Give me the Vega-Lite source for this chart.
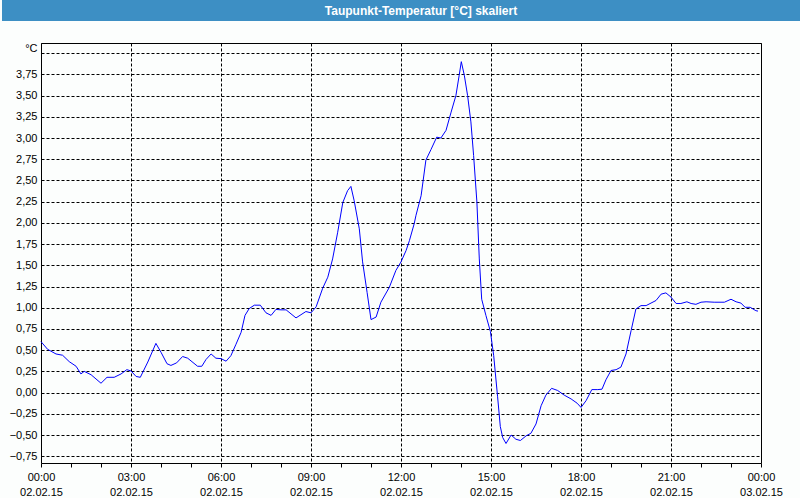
{
  "$schema": "https://vega.github.io/schema/vega-lite/v6.json",
  "background": "#fcfefd",
  "padding": 0,
  "spacing": 20,
  "config": {"view": {"stroke": null}, "font": "Liberation Sans"},
  "vconcat": [
    {
      "width": 720,
      "height": 21,
      "view": {"fill": "#3d8fc4", "stroke": null},
      "data": {"values": [{"titel": "Taupunkt-Temperatur [°C] skaliert"}]},
      "layer": [
        {
          "mark": {"type": "text", "color": "#ffffff", "fontWeight": "bold", "fontSize": 12, "font": "Liberation Sans", "dx": 20, "baseline": "middle"},
          "encoding": {
            "text": {"field": "titel", "type": "nominal"},
            "y": {"datum": 10.5, "type": "quantitative", "scale": {"domain": [0, 21], "nice": false},
              "axis": {"orient": "left", "title": null, "values": [1,2,3,4,5,6,7,8,9,10,11,12,13,14,15,16,17,18,19,20],
                "domain": false, "labels": false, "grid": false, "translate": 0,
                "ticks": true, "tickSize": 39, "tickWidth": 2, "tickColor": "#3d8fc4", "tickCap": "butt", "minExtent": 40, "maxExtent": 40}}
          }
        },
        {
          "mark": {"type": "text", "opacity": 0},
          "encoding": {
            "text": {"field": "titel", "type": "nominal"},
            "y": {"datum": 10.5, "type": "quantitative", "scale": {"domain": [0, 21], "nice": false},
              "axis": {"orient": "right", "title": null, "values": [1,2,3,4,5,6,7,8,9,10,11,12,13,14,15,16,17,18,19,20],
                "domain": false, "labels": false, "grid": false, "translate": 0,
                "ticks": true, "tickSize": 40, "tickWidth": 2, "tickColor": "#3d8fc4", "tickCap": "butt", "minExtent": 40, "maxExtent": 40}}
          }
        }
      ],
      "resolve": {"scale": {"y": "independent"}, "axis": {"y": "independent"}}
    },
    {
      "width": 720,
      "height": 420,
      "view": {"stroke": "#000000", "strokeWidth": 1, "fill": "#fcfefd"},
      "data": {"values": [
        {"h": 0.0, "v": 0.60}, {"h": 0.22, "v": 0.51}, {"h": 0.5, "v": 0.455}, {"h": 0.72, "v": 0.44},
        {"h": 0.94, "v": 0.365}, {"h": 1.17, "v": 0.31}, {"h": 1.33, "v": 0.22}, {"h": 1.44, "v": 0.25},
        {"h": 1.67, "v": 0.21}, {"h": 2.0, "v": 0.11}, {"h": 2.2, "v": 0.18}, {"h": 2.44, "v": 0.18},
        {"h": 2.67, "v": 0.22}, {"h": 2.86, "v": 0.27}, {"h": 3.0, "v": 0.255}, {"h": 3.17, "v": 0.19},
        {"h": 3.31, "v": 0.18}, {"h": 3.56, "v": 0.36}, {"h": 3.83, "v": 0.58}, {"h": 4.0, "v": 0.475},
        {"h": 4.2, "v": 0.34}, {"h": 4.33, "v": 0.32}, {"h": 4.52, "v": 0.35}, {"h": 4.72, "v": 0.425},
        {"h": 4.89, "v": 0.405}, {"h": 5.22, "v": 0.31}, {"h": 5.36, "v": 0.31}, {"h": 5.5, "v": 0.39},
        {"h": 5.67, "v": 0.455}, {"h": 5.83, "v": 0.405}, {"h": 6.0, "v": 0.40}, {"h": 6.17, "v": 0.37},
        {"h": 6.33, "v": 0.435}, {"h": 6.5, "v": 0.57}, {"h": 6.67, "v": 0.71}, {"h": 6.8, "v": 0.91},
        {"h": 6.94, "v": 0.99}, {"h": 7.11, "v": 1.03}, {"h": 7.31, "v": 1.03}, {"h": 7.5, "v": 0.94},
        {"h": 7.67, "v": 0.91}, {"h": 7.83, "v": 0.98}, {"h": 8.0, "v": 0.975}, {"h": 8.17, "v": 0.975},
        {"h": 8.5, "v": 0.88}, {"h": 8.83, "v": 0.955}, {"h": 9.0, "v": 0.94}, {"h": 9.17, "v": 1.01},
        {"h": 9.39, "v": 1.23}, {"h": 9.56, "v": 1.36}, {"h": 9.72, "v": 1.575}, {"h": 9.89, "v": 1.89},
        {"h": 10.06, "v": 2.24}, {"h": 10.22, "v": 2.38}, {"h": 10.33, "v": 2.43}, {"h": 10.44, "v": 2.26},
        {"h": 10.61, "v": 1.93}, {"h": 10.72, "v": 1.54}, {"h": 10.87, "v": 1.18}, {"h": 11.0, "v": 0.86},
        {"h": 11.17, "v": 0.89}, {"h": 11.33, "v": 1.065}, {"h": 11.61, "v": 1.24}, {"h": 11.83, "v": 1.44},
        {"h": 12.0, "v": 1.54}, {"h": 12.17, "v": 1.675}, {"h": 12.28, "v": 1.79}, {"h": 12.44, "v": 1.99},
        {"h": 12.5, "v": 2.09}, {"h": 12.67, "v": 2.32}, {"h": 12.83, "v": 2.74}, {"h": 13.0, "v": 2.865},
        {"h": 13.19, "v": 3.01}, {"h": 13.33, "v": 3.0}, {"h": 13.5, "v": 3.09}, {"h": 13.67, "v": 3.305},
        {"h": 13.83, "v": 3.5}, {"h": 13.94, "v": 3.74}, {"h": 14.01, "v": 3.9}, {"h": 14.11, "v": 3.74},
        {"h": 14.22, "v": 3.5}, {"h": 14.33, "v": 3.19}, {"h": 14.42, "v": 2.795}, {"h": 14.53, "v": 2.245},
        {"h": 14.61, "v": 1.575}, {"h": 14.69, "v": 1.1}, {"h": 14.83, "v": 0.91}, {"h": 14.98, "v": 0.72},
        {"h": 15.09, "v": 0.435}, {"h": 15.22, "v": -0.05}, {"h": 15.31, "v": -0.4}, {"h": 15.39, "v": -0.53},
        {"h": 15.5, "v": -0.6}, {"h": 15.67, "v": -0.5}, {"h": 15.83, "v": -0.55}, {"h": 15.98, "v": -0.565},
        {"h": 16.17, "v": -0.51}, {"h": 16.33, "v": -0.48}, {"h": 16.5, "v": -0.37}, {"h": 16.67, "v": -0.155},
        {"h": 16.83, "v": -0.03}, {"h": 17.02, "v": 0.05}, {"h": 17.22, "v": 0.025}, {"h": 17.44, "v": -0.03},
        {"h": 17.67, "v": -0.075}, {"h": 17.87, "v": -0.125}, {"h": 18.0, "v": -0.175}, {"h": 18.17, "v": -0.095},
        {"h": 18.36, "v": 0.035}, {"h": 18.56, "v": 0.035}, {"h": 18.7, "v": 0.04}, {"h": 18.83, "v": 0.15},
        {"h": 19.0, "v": 0.26}, {"h": 19.17, "v": 0.27}, {"h": 19.33, "v": 0.3}, {"h": 19.5, "v": 0.455},
        {"h": 19.67, "v": 0.73}, {"h": 19.83, "v": 0.985}, {"h": 20.0, "v": 1.025}, {"h": 20.17, "v": 1.025},
        {"h": 20.5, "v": 1.085}, {"h": 20.67, "v": 1.16}, {"h": 20.83, "v": 1.175}, {"h": 21.0, "v": 1.125},
        {"h": 21.17, "v": 1.05}, {"h": 21.33, "v": 1.05}, {"h": 21.53, "v": 1.07}, {"h": 21.67, "v": 1.05},
        {"h": 21.83, "v": 1.04}, {"h": 22.0, "v": 1.065}, {"h": 22.17, "v": 1.07}, {"h": 22.44, "v": 1.065},
        {"h": 22.78, "v": 1.065}, {"h": 23.0, "v": 1.1}, {"h": 23.17, "v": 1.07}, {"h": 23.33, "v": 1.055},
        {"h": 23.47, "v": 1.005}, {"h": 23.64, "v": 1.005}, {"h": 23.83, "v": 0.965}, {"h": 23.9, "v": 0.96}
      ]},
      "mark": {"type": "line", "color": "#0000ff", "strokeWidth": 1},
      "encoding": {
        "x": {
          "field": "h", "type": "quantitative", "title": null,
          "scale": {"domain": [0, 24], "nice": false, "zero": false},
          "axis": {
            "values": [0,1,2,3,4,5,6,7,8,9,10,11,12,13,14,15,16,17,18,19,20,21,22,23,24],
            "domain": false,
            "ticks": true, "tickSize": 4, "tickColor": "#000000", "tickWidth": 1,
            "grid": true, "gridColor": "#000000", "gridDash": [3, 2], "gridWidth": 1,
            "gridOpacity": {"condition": {"test": "datum.value % 3 == 0", "value": 1}, "value": 0},
            "labelExpr": "datum.value % 3 != 0 ? '' : [(datum.value % 24 < 10 ? '0' : '') + (datum.value % 24) + ':00', datum.value == 24 ? '03.02.15' : '02.02.15']",
            "labelFont": "Liberation Sans", "labelFontSize": 11, "labelColor": "#000000",
            "labelBaseline": "top", "labelLineHeight": 15, "labelPadding": 4,
            "labelFlush": false, "labelOverlap": false, "labelBound": false
          }
        },
        "y": {
          "field": "v", "type": "quantitative", "title": null,
          "scale": {"domain": [-0.83, 4.12], "nice": false, "zero": false},
          "axis": {
            "values": [-0.75,-0.5,-0.25,0,0.25,0.5,0.75,1,1.25,1.5,1.75,2,2.25,2.5,2.75,3,3.25,3.5,3.75,4],
            "domain": false, "ticks": false,
            "grid": true, "gridColor": "#000000", "gridDash": [3, 2], "gridWidth": 1, "gridOpacity": 1,
            "labelExpr": "datum.value == 4 ? '°C' : replace(format(datum.value, '.2f'), '.', ',')",
            "labelFont": "Liberation Sans", "labelFontSize": 11, "labelColor": "#000000",
            "labelBaseline": {"condition": {"test": "datum.value == 4", "value": "bottom"}, "value": "middle"},
            "labelPadding": 4, "labelFlush": false, "labelOverlap": false, "labelBound": false,
            "minExtent": 40, "maxExtent": 40
          }
        }
      }
    }
  ]
}
